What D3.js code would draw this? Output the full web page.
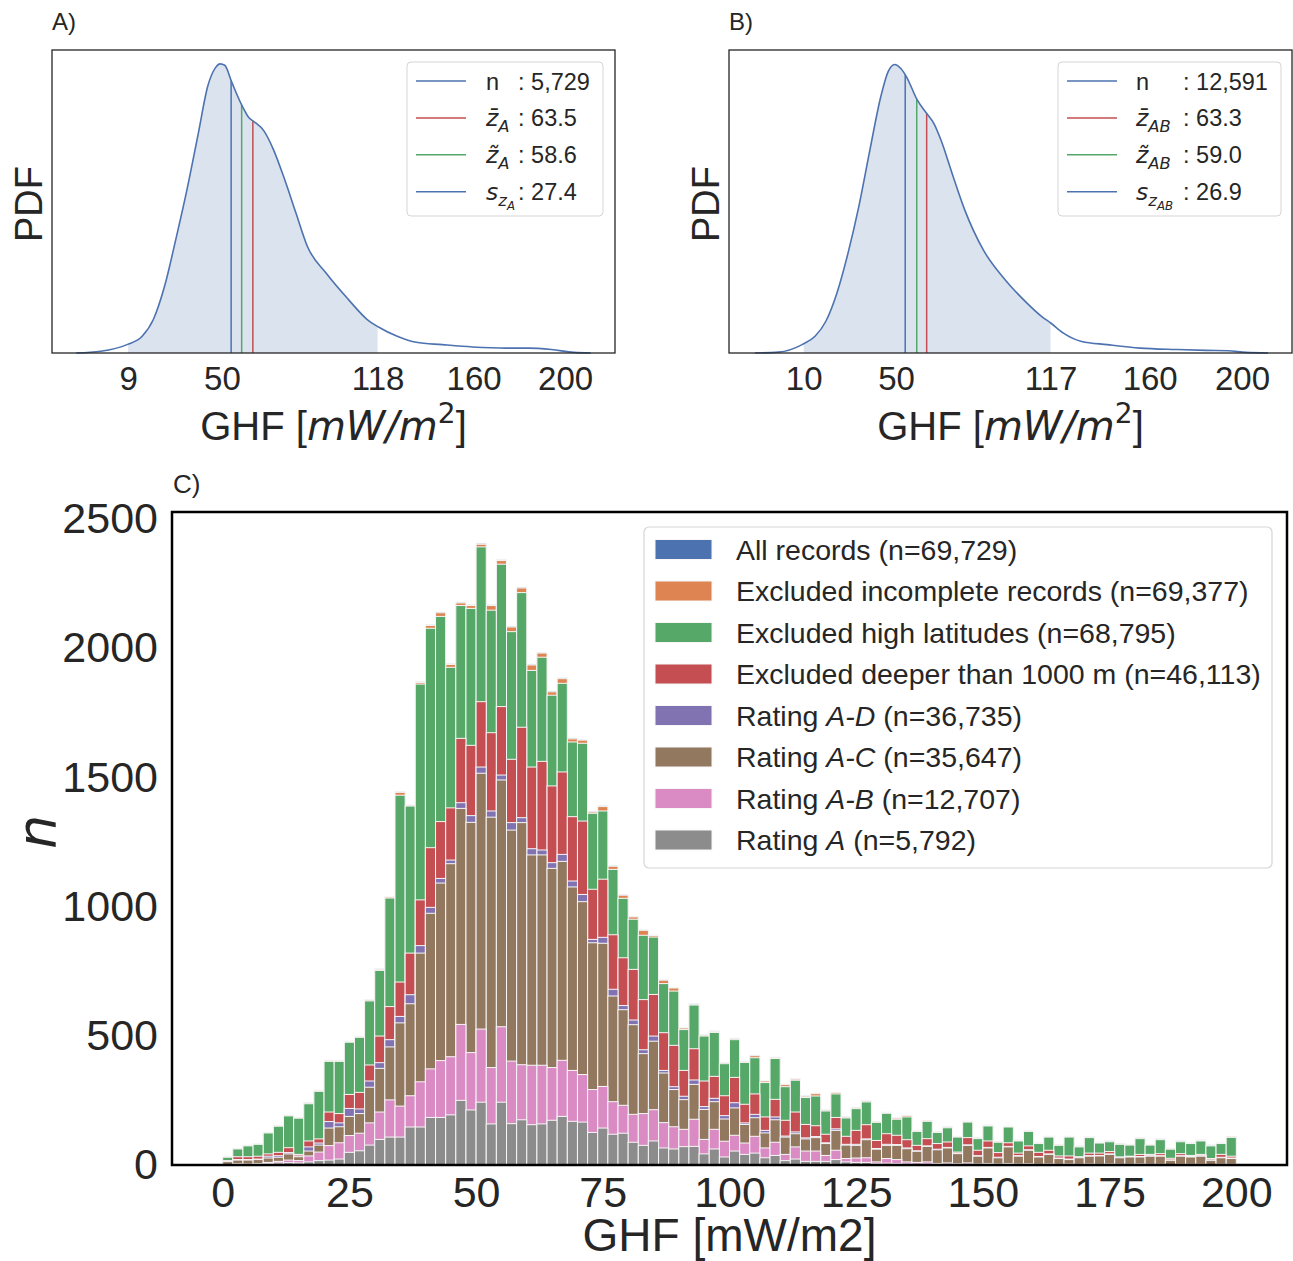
<!DOCTYPE html>
<html>
<head>
<meta charset="utf-8">
<script src="https://cdn.jsdelivr.net/npm/d3@7"></script>
<style>
  body { margin: 0; background: #fff; }
</style>
</head>
<body>
<div id="chart"></div>
<script>
// ---------- panel A / B : KDE of GHF ----------
const kdeAx = [-13.7, -3.0, 8.5, 15.1, 20.0, 24.9, 29.8, 34.7, 39.7, 43.8, 47.1, 49.2, 51.2, 54.4, 58.9, 61.8, 63.8, 68.4, 72.5, 77.4, 82.3, 87.3, 95.5, 105.3, 113.5, 118.4, 126.6, 134.9, 146.3, 159.5, 174.2, 184.1, 194.0, 203.8, 211.2];
const kdeAy = [0, 0.006, 0.029, 0.058, 0.116, 0.231, 0.393, 0.566, 0.763, 0.925, 0.988, 1.002, 0.997, 0.936, 0.855, 0.815, 0.803, 0.769, 0.705, 0.601, 0.486, 0.370, 0.277, 0.185, 0.116, 0.090, 0.058, 0.037, 0.029, 0.021, 0.017, 0.017, 0.012, 0.002, 0];
const kdeBx = [-11.2, -0.9, 9.3, 14.9, 19.6, 24.4, 29.2, 33.9, 38.7, 43.4, 46.6, 49.4, 52.1, 54.5, 59.2, 63.5, 66.4, 69.5, 74.3, 79.8, 87.8, 97.3, 106.8, 113.1, 117.1, 122.6, 130.5, 141.6, 155.9, 171.7, 184.4, 193.9, 201.8, 211.3];
const kdeBy = [0, 0.003, 0.029, 0.058, 0.110, 0.208, 0.346, 0.508, 0.704, 0.888, 0.975, 1.0, 0.986, 0.958, 0.877, 0.828, 0.796, 0.738, 0.623, 0.496, 0.358, 0.254, 0.173, 0.127, 0.104, 0.069, 0.040, 0.029, 0.017, 0.012, 0.009, 0.008, 0.002, 0];

const ticksA = [9, 50, 118, 160, 200];
const ticksB = [10, 50, 117, 160, 200];
const rangeA = [9, 118];      // shaded 95% interval
const rangeB = [10, 117];
const statsA = { n: '5,729', mean: 63.5, median: 58.6, s: 27.4, ref: 54.0 };
const statsB = { n: '12,591', mean: 63.3, median: 59.0, s: 26.9, ref: 54.0 };

// ---------- panel C : histogram, bins of 2 mW/m2 from 0 to 200 ----------
const binEdges = d3.range(0, 200, 2);
const allRecords = [32, 64, 76, 82, 127, 153, 193, 184, 241, 290, 406, 405, 480, 499, 640, 759, 1039,
  1445, 1395, 1870, 2091, 2140, 1940, 2178, 2168, 2406, 2168, 2342,
  2085, 2236, 1938, 1984, 1834, 1885, 1652, 1647, 1369, 1390,
  1158, 1046, 962, 910, 890, 717, 687, 532, 624, 504, 519, 397, 491, 402, 425, 327, 417,
  313, 334, 268, 278, 214, 282, 187, 223, 249, 169, 205, 183, 193, 134, 173, 130, 148, 112, 170, 106, 155, 92, 151, 97, 134, 87, 112, 80, 112, 74, 110, 89, 94, 84, 81, 106, 81, 102, 65, 94, 87, 97, 78, 87, 111];
const excludedIncomplete = [31, 63, 75, 81, 126, 152, 192, 183, 239, 288, 404, 403, 478, 497, 638, 757, 1037,
  1442, 1392, 1867, 2088, 2137, 1937, 2175, 2165, 2402, 2165, 2339,
  2082, 2233, 1935, 1981, 1831, 1882, 1649, 1644, 1366, 1387,
  1156, 1044, 960, 908, 888, 715, 685, 530, 622, 502, 517, 395, 489, 400, 423, 325, 415,
  311, 332, 266, 276, 212, 280, 185, 221, 247, 167, 203, 181, 191, 132, 171, 128, 146, 110, 168, 104, 153, 90, 149, 95, 132, 85, 110, 78, 110, 72, 108, 87, 92, 82, 79, 104, 79, 100, 63, 92, 85, 95, 76, 85, 109];
const excludedHighLat = [30, 62, 74, 80, 124, 150, 190, 181, 237, 285, 401, 401, 475, 494, 635, 753, 1033,
  1431, 1389, 1861, 2077, 2123, 1926, 2165, 2154, 2392, 2147, 2325,
  2064, 2215, 1914, 1965, 1818, 1864, 1637, 1632, 1361, 1370,
  1144, 1032, 951, 889, 882, 702, 673, 524, 619, 499, 513, 392, 485, 397, 415, 319, 412,
  303, 328, 261, 267, 209, 275, 182, 218, 244, 165, 200, 177, 186, 130, 169, 126, 144, 108, 166, 102, 151, 88, 147, 93, 130, 83, 108, 76, 108, 70, 106, 85, 90, 80, 77, 102, 77, 98, 61, 90, 83, 93, 74, 83, 107];
const excludedDeep = [17, 32, 32, 34, 43, 49, 67, 41, 93, 101, 205, 199, 273, 281, 387, 499, 613,
  708, 820, 1026, 1228, 1329, 1382, 1651, 1624, 1793, 1673, 1774,
  1570, 1694, 1540, 1562, 1467, 1521, 1348, 1331, 1067, 1106,
  891, 802, 757, 640, 660, 512, 463, 366, 450, 325, 343, 268, 339, 235, 275, 186, 254,
  173, 205, 157, 152, 119, 184, 111, 134, 156, 95, 121, 115, 98, 76, 102, 83, 89, 50, 106, 57, 93, 48, 86, 46, 74, 49, 57, 35, 35, 32, 46, 46, 52, 31, 34, 41, 41, 44, 26, 44, 37, 41, 25, 41, 34];
const ratingAD = [14, 21, 21, 23, 34, 36, 48, 35, 70, 85, 168, 163, 219, 217, 325, 396, 485,
  575, 659, 849, 997, 1109, 1180, 1402, 1352, 1540, 1370, 1509,
  1325, 1344, 1224, 1219, 1170, 1202, 1099, 1047, 873, 881,
  680, 617, 561, 446, 499, 366, 303, 266, 329, 226, 258, 191, 241, 163, 196, 134, 186,
  112, 128, 105, 110, 86, 140, 80, 80, 101, 64, 80, 79, 66, 55, 74, 61, 68, 46, 78, 36, 68, 30, 72, 36, 59, 33, 43, 27, 23, 30, 36, 37, 43, 30, 33, 33, 36, 36, 20, 36, 33, 36, 20, 30, 27];
const ratingAC = [13, 19, 19, 21, 27, 30, 43, 32, 54, 77, 143, 148, 188, 199, 301, 374, 457,
  550, 624, 820, 974, 1091, 1166, 1380, 1326, 1516, 1346, 1490,
  1296, 1325, 1200, 1200, 1148, 1175, 1076, 1019, 860, 858,
  654, 601, 543, 431, 479, 356, 292, 253, 312, 215, 245, 178, 221, 157, 183, 124, 175,
  108, 121, 101, 106, 83, 134, 77, 76, 98, 61, 76, 76, 63, 53, 72, 59, 66, 44, 76, 34, 66, 28, 70, 34, 57, 31, 41, 25, 21, 28, 34, 35, 41, 28, 31, 31, 34, 34, 18, 34, 31, 34, 18, 28, 25];
const ratingAB = [2, 5, 4, 6, 10, 14, 19, 17, 35, 50, 75, 86, 114, 123, 163, 205, 252,
  228, 268, 322, 372, 404, 419, 544, 435, 526, 377, 535,
  402, 388, 386, 386, 377, 405, 366, 350, 292, 304,
  245, 231, 196, 199, 214, 164, 148, 138, 177, 99, 138, 92, 115, 85, 111, 66, 88,
  41, 70, 54, 54, 37, 57, 25, 27, 28, 12, 25, 21, 12, 10, 12, 6, 8, 5, 8, 4, 6, 4, 6, 4, 5, 3, 4, 3, 4, 3, 4, 3, 4, 3, 3, 4, 3, 3, 2, 3, 3, 3, 2, 3, 3];
const ratingA = [1, 3, 2, 4, 6, 8, 9, 8, 12, 17, 19, 23, 49, 55, 77, 99, 108,
  108, 147, 147, 184, 184, 194, 250, 213, 243, 159, 243,
  160, 175, 156, 159, 173, 188, 169, 166, 126, 143,
  119, 123, 88, 76, 93, 66, 62, 71, 72, 43, 62, 31, 54, 41, 46, 28, 37,
  17, 23, 14, 14, 14, 21, 12, 10, 10, 5, 7, 6, 4, 3, 4, 2, 3, 2, 3, 1, 2, 1, 2, 1, 2, 1, 1, 1, 1, 1, 1, 1, 1, 1, 1, 1, 1, 1, 1, 1, 1, 1, 1, 1, 1];

const yTicksC = [0, 500, 1000, 1500, 2000, 2500];
const xTicksC = [0, 25, 50, 75, 100, 125, 150, 175, 200];

const histSeries = [
  { name: 'All records', n: '69,729', color: '#4c72b0', values: allRecords },
  { name: 'Excluded incomplete records', n: '69,377', color: '#dd8452', values: excludedIncomplete },
  { name: 'Excluded high latitudes', n: '68,795', color: '#55a868', values: excludedHighLat },
  { name: 'Excluded deeper than 1000 m', n: '46,113', color: '#c44e52', values: excludedDeep },
  { name: 'Rating ', it: 'A-D', n: '36,735', color: '#8172b2', values: ratingAD },
  { name: 'Rating ', it: 'A-C', n: '35,647', color: '#937860', values: ratingAC },
  { name: 'Rating ', it: 'A-B', n: '12,707', color: '#da8bc3', values: ratingAB },
  { name: 'Rating ', it: 'A', n: '5,792', color: '#8c8c8c', values: ratingA }
];

// ---------- drawing ----------
const W = 1293, H = 1261;
const ink = '#262626';
const mathFont = 'DejaVu Sans';

const svg = d3.select('#chart').append('svg')
  .attr('width', W).attr('height', H)
  .style('font-family', 'Liberation Sans, Arial, sans-serif');

svg.append('rect').attr('width', W).attr('height', H).attr('fill', '#fff');

// text made of pieces: {t, it (italic math), lv: 0 normal, 1 sub, 2 subsub, -1 sup}
function rich(g, x, y, parts, size, anchor) {
  const t = g.append('text').attr('x', x).attr('y', y)
    .attr('font-size', size).attr('fill', ink);
  if (anchor) t.attr('text-anchor', anchor);
  const off = { '0': 0, '1': 0.24, '2': 0.4, '-1': -0.42 };
  const scale = { '0': 1, '1': 0.7, '2': 0.5, '-1': 0.7 };
  let prev = 0;
  parts.forEach(p => {
    const lv = p.lv || 0;
    const s = t.append('tspan')
      .attr('dy', (off[lv] - off[prev]) * size)
      .attr('font-size', size * scale[lv])
      .text(p.t);
    if (p.it) s.attr('font-style', 'italic').attr('font-family', mathFont);
    if (p.math) s.attr('font-family', mathFont);
    prev = lv;
  });
  return t;
}

function densityAt(xs, ys, v) {
  const i = d3.bisectRight(xs, v) - 1;
  const f = (v - xs[i]) / (xs[i + 1] - xs[i]);
  return ys[i] + f * (ys[i + 1] - ys[i]);
}

function kdePanel(o) {
  const g = svg.append('g');
  const x = d3.scaleLinear().domain(o.xDomain).range([o.left, o.right]);
  const y = d3.scaleLinear().domain([0, 1.05]).range([353, 50]);
  const pts = o.xs.map((v, i) => [v, o.ys[i]]);

  const clipId = 'clip' + o.id;
  g.append('clipPath').attr('id', clipId).append('rect')
    .attr('x', x(o.range[0])).attr('y', 50)
    .attr('width', x(o.range[1]) - x(o.range[0])).attr('height', 303);

  const area = d3.area().x(d => x(d[0])).y0(y(0)).y1(d => y(d[1])).curve(d3.curveMonotoneX);
  const line = d3.line().x(d => x(d[0])).y(d => y(d[1])).curve(d3.curveMonotoneX);

  g.append('path').datum(pts).attr('d', area)
    .attr('fill', '#4c72b0').attr('fill-opacity', 0.2)
    .attr('clip-path', `url(#${clipId})`);

  const vlines = [
    { v: o.stats.ref, c: '#4c72b0' },
    { v: o.stats.median, c: '#55a868' },
    { v: o.stats.mean, c: '#c44e52' }
  ];
  g.selectAll('line.stat').data(vlines).join('line')
    .attr('x1', d => x(d.v)).attr('x2', d => x(d.v))
    .attr('y1', y(0)).attr('y2', d => y(densityAt(o.xs, o.ys, d.v)))
    .attr('stroke', d => d.c).attr('stroke-width', 1.5);

  g.append('path').datum(pts).attr('d', line)
    .attr('fill', 'none').attr('stroke', '#4c72b0').attr('stroke-width', 1.6);

  g.append('rect').attr('x', o.left).attr('y', 50)
    .attr('width', o.right - o.left).attr('height', 303)
    .attr('fill', 'none').attr('stroke', ink).attr('stroke-width', 1.3);

  const ax = g.append('g').attr('transform', 'translate(0,353)')
    .call(d3.axisBottom(x).tickValues(o.ticks).tickSize(0).tickPadding(14).tickFormat(d3.format('d')));
  ax.select('.domain').remove();
  ax.selectAll('text').attr('font-size', 33).attr('fill', ink)
    .attr('font-family', 'Liberation Sans, Arial, sans-serif');

  // axis labels and panel tag
  rich(g, (o.left + o.right) / 2, 440, [
    { t: 'GHF [' }, { t: 'mW/m', it: true }, { t: '2', lv: -1, math: true }, { t: ']' }
  ], 40, 'middle');
  g.append('text').attr('transform', `translate(${o.left - 10},204) rotate(-90)`)
    .attr('text-anchor', 'middle').attr('font-size', 38).attr('fill', ink).text('PDF');
  g.append('text').attr('x', o.left).attr('y', 30).attr('font-size', 24).attr('fill', ink).text(o.tag);

  // legend
  const lg = g.append('g');
  lg.append('rect').attr('x', o.leg.x0).attr('y', 62).attr('width', o.leg.x1 - o.leg.x0).attr('height', 154)
    .attr('rx', 4).attr('fill', '#fff').attr('stroke', '#d5d5d5').attr('stroke-width', 1);
  const rows = [
    { c: '#4c72b0', label: [{ t: 'n' }], val: o.stats.n },
    { c: '#c44e52', label: [{ t: 'z\u0304', it: true }, { t: o.sub, it: true, lv: 1 }], val: o.stats.mean.toFixed(1) },
    { c: '#55a868', label: [{ t: 'z\u0303', it: true }, { t: o.sub, it: true, lv: 1 }], val: o.stats.median.toFixed(1) },
    { c: '#4c72b0', label: [{ t: 's', it: true }, { t: 'z', it: true, lv: 1 }, { t: o.sub, it: true, lv: 2 }], val: o.stats.s.toFixed(1) }
  ];
  rows.forEach((r, i) => {
    const cy = 81 + i * 36.9;
    lg.append('line').attr('x1', o.leg.x0 + 9).attr('x2', o.leg.x0 + 59)
      .attr('y1', cy).attr('y2', cy).attr('stroke', r.c).attr('stroke-width', 1.5);
    rich(lg, o.leg.tx, cy + 8.5, r.label, 23.5);
    lg.append('text').attr('x', o.leg.cx).attr('y', cy + 8.5).attr('font-size', 23.5)
      .attr('fill', ink).text(': ' + r.val);
  });
}

kdePanel({ id: 'A', tag: 'A)', xs: kdeAx, ys: kdeAy, xDomain: [-24.3, 221.8], left: 52, right: 615,
  ticks: ticksA, range: rangeA, stats: statsA, sub: 'A',
  leg: { x0: 407, x1: 603, tx: 486, cx: 518 } });
kdePanel({ id: 'B', tag: 'B)', xs: kdeBx, ys: kdeBy, xDomain: [-22.4, 221.7], left: 729, right: 1292,
  ticks: ticksB, range: rangeB, stats: statsB, sub: 'AB',
  leg: { x0: 1058, x1: 1281, tx: 1136, cx: 1183 } });

// ---------- panel C ----------
const gc = svg.append('g');
const xC = d3.scaleLinear().domain([-10, 210]).range([172, 1287]);
const yC = d3.scaleLinear().domain([0, 2527]).range([1165, 512]);

histSeries.forEach(s => {
  gc.append('g').selectAll('rect').data(s.values).join('rect')
    .attr('x', (d, i) => xC(binEdges[i]))
    .attr('width', (d, i) => xC(binEdges[i] + 2) - xC(binEdges[i]))
    .attr('y', d => yC(d))
    .attr('height', d => yC(0) - yC(d))
    .attr('fill', s.color)
    .attr('stroke', '#f7f7f7').attr('stroke-width', 1);
});

gc.append('rect').attr('x', 172).attr('y', 512).attr('width', 1115).attr('height', 653)
  .attr('fill', 'none').attr('stroke', '#000').attr('stroke-width', 2.5);

const axY = gc.append('g').attr('transform', 'translate(172,0)')
  .call(d3.axisLeft(yC).tickValues(yTicksC).tickSize(0).tickPadding(14).tickFormat(d3.format('d')));
const axX = gc.append('g').attr('transform', 'translate(0,1165)')
  .call(d3.axisBottom(xC).tickValues(xTicksC).tickSize(0).tickPadding(11).tickFormat(d3.format('d')));
[axY, axX].forEach(a => {
  a.select('.domain').remove();
  a.selectAll('text').attr('font-size', 43).attr('fill', ink)
    .attr('font-family', 'Liberation Sans, Arial, sans-serif');
});

gc.append('text').attr('x', 729.5).attr('y', 1251).attr('text-anchor', 'middle')
  .attr('font-size', 46).attr('fill', ink).text('GHF [mW/m2]');
gc.append('text').attr('transform', 'translate(55,832) rotate(-90)').attr('text-anchor', 'middle')
  .attr('font-size', 54).attr('font-style', 'italic').attr('font-family', mathFont)
  .attr('fill', ink).text('n');
gc.append('text').attr('x', 173).attr('y', 493).attr('font-size', 26).attr('fill', ink).text('C)');

// legend C
const lgC = gc.append('g');
lgC.append('rect').attr('x', 644).attr('y', 527).attr('width', 628).attr('height', 341)
  .attr('rx', 5).attr('fill', '#fff').attr('stroke', '#d5d5d5').attr('stroke-width', 1.2);
histSeries.forEach((s, i) => {
  const cy = 549.5 + i * 41.5;
  lgC.append('rect').attr('x', 655).attr('y', cy - 10).attr('width', 57).attr('height', 20)
    .attr('fill', s.color).attr('stroke', '#f7f7f7').attr('stroke-width', 1);
  const t = lgC.append('text').attr('x', 736).attr('y', cy + 10).attr('font-size', 28.5).attr('fill', ink);
  t.append('tspan').text(s.name);
  if (s.it) t.append('tspan').attr('font-style', 'italic').text(s.it);
  t.append('tspan').text(` (n=${s.n})`);
});
</script>
</body>
</html>
